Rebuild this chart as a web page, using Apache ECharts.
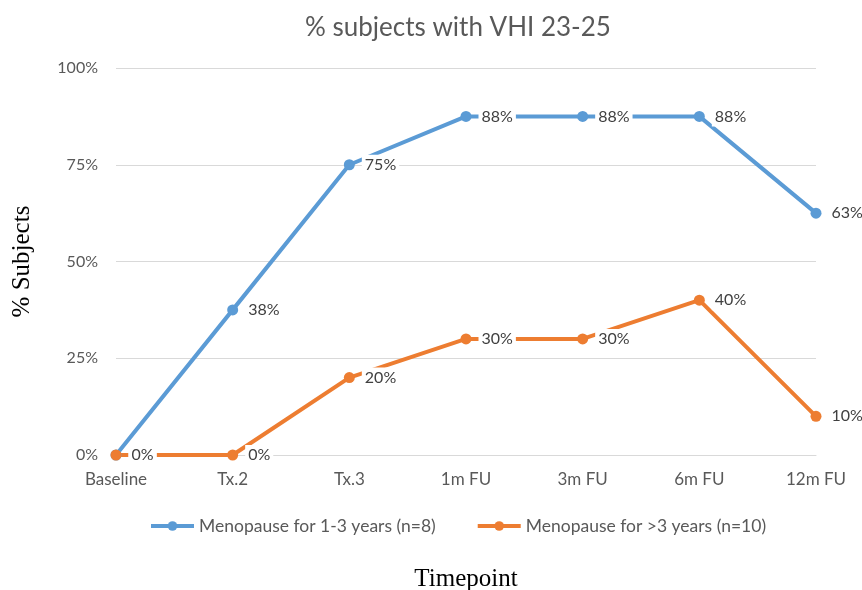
<!DOCTYPE html>
<html>
<head>
<meta charset="utf-8">
<script src="https://cdn.jsdelivr.net/npm/echarts@6/dist/echarts.min.js"></script>
<style>
  html, body { margin: 0; padding: 0; background: #fff; }
  #chart { width: 862px; height: 590px; }
</style>
</head>
<body>
<div id="chart"></div>
<script>
  // timepoints on the x axis
  var timepoints = ['Baseline', 'Tx.2', 'Tx.3', '1m FU', '3m FU', '6m FU', '12m FU']
  // % subjects with VHI 23-25
  var shortMeno = [0, 37.5, 75, 87.5, 87.5, 87.5, 62.5]
  var longMeno = [0, 0, 20, 30, 30, 40, 10]
  var seriesNames = ['Menopause for 1-3 years (n=8)', 'Menopause for >3 years (n=10)']

  var myChart = echarts.init(document.getElementById('chart'))
  var font = 'Lato, "Open Sans", sans-serif'
  var serif = '"Liberation Serif", "DejaVu Serif", serif'

  function pointLabel() {
    return {
      show: true,
      position: 'right',
      distance: 7,
      color: '#404040',
      fontSize: 16,
      fontFamily: font,
      backgroundColor: '#fff',
      padding: [2, 3],
      formatter: function (p) { return Math.round(p.value) + '%' }
    }
  }

  var option = {
    animation: false,
    title: {
      text: '% subjects with VHI 23-25',
      left: 300,
      top: 10,
      textStyle: { color: '#595959', fontSize: 26, fontWeight: 'normal', fontFamily: font }
    },
    legend: {
      data: seriesNames,
      top: 512,
      left: 144,
      itemWidth: 43,
      itemHeight: 12,
      itemGap: 40,
      lineStyle: { width: 4 },
      textStyle: { color: '#595959', fontSize: 17.5, fontFamily: font }
    },
    grid: { left: 116, right: 46, top: 68, bottom: 135, outerBoundsMode: 'none' },
    xAxis: {
      type: 'category',
      boundaryGap: false,
      data: timepoints,
      name: 'Timepoint',
      nameLocation: 'middle',
      nameGap: 112,
      nameTextStyle: { color: '#000', fontSize: 25, fontFamily: serif },
      axisLine: { lineStyle: { color: '#d9d9d9' } },
      axisTick: { show: false },
      axisLabel: { color: '#595959', fontSize: 17, fontFamily: font, margin: 16 }
    },
    yAxis: {
      type: 'value',
      min: 0,
      max: 100,
      interval: 25,
      name: '% Subjects',
      nameLocation: 'middle',
      nameGap: 81,
      nameRotate: 90,
      nameTextStyle: { color: '#000', fontSize: 25, fontFamily: serif },
      axisLine: { show: false },
      axisTick: { show: false },
      splitLine: { lineStyle: { color: '#d9d9d9' } },
      axisLabel: { color: '#595959', fontSize: 16, fontFamily: font, margin: 18, formatter: '{value}%' }
    },
    series: [
      {
        name: seriesNames[0],
        type: 'line',
        data: shortMeno,
        symbol: 'circle',
        symbolSize: 11,
        itemStyle: { color: '#5B9BD5' },
        lineStyle: { width: 4, color: '#5B9BD5' },
        label: pointLabel()
      },
      {
        name: seriesNames[1],
        type: 'line',
        data: longMeno,
        symbol: 'circle',
        symbolSize: 11,
        itemStyle: { color: '#ED7D31' },
        lineStyle: { width: 4, color: '#ED7D31' },
        label: pointLabel()
      }
    ]
  }
  myChart.setOption(option)
</script>
</body>
</html>
